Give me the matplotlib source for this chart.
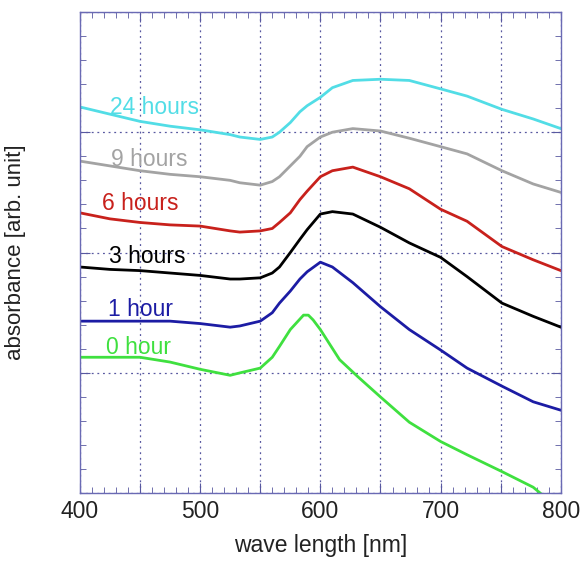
import numpy as np
import matplotlib
matplotlib.use("Agg")
import matplotlib.pyplot as plt
from matplotlib.ticker import MultipleLocator

plt.rcParams['font.family'] = ['Liberation Sans', 'DejaVu Sans']

# wavelengths [nm]
wl = [400, 425, 450, 475, 500, 525, 533, 550, 560, 566, 575, 583, 589, 600,
      610, 627, 650, 674, 700, 722, 751, 777, 800]

abs_24h = [3.21, 3.15, 3.09, 3.05, 3.02, 2.98, 2.96, 2.94, 2.96, 3.00, 3.08,
           3.17, 3.22, 3.29, 3.37, 3.43, 3.44, 3.43, 3.36, 3.30, 3.19, 3.11, 3.03]
abs_9h = [2.76, 2.72, 2.68, 2.65, 2.63, 2.60, 2.58, 2.56, 2.59, 2.63, 2.72,
          2.80, 2.88, 2.96, 3.00, 3.03, 3.01, 2.95, 2.88, 2.82, 2.68, 2.57, 2.50]
abs_6h = [2.33, 2.28, 2.25, 2.23, 2.22, 2.18, 2.17, 2.18, 2.20, 2.25, 2.33,
          2.44, 2.51, 2.63, 2.68, 2.71, 2.63, 2.53, 2.36, 2.26, 2.05, 1.94, 1.85]
abs_3h = [1.88, 1.86, 1.85, 1.83, 1.81, 1.78, 1.78, 1.79, 1.83, 1.88, 2.00,
          2.11, 2.19, 2.32, 2.34, 2.32, 2.21, 2.08, 1.96, 1.80, 1.58, 1.47, 1.38]
abs_1h = [1.43, 1.43, 1.43, 1.43, 1.41, 1.38, 1.39, 1.43, 1.50, 1.58, 1.68,
          1.78, 1.84, 1.92, 1.88, 1.75, 1.55, 1.36, 1.19, 1.04, 0.89, 0.76, 0.69]

# 0 hour has its peak further left, so its own wavelength list
wl_0h = [400, 425, 450, 475, 500, 525, 533, 550, 560, 566, 575, 586, 590, 594,
         600, 616, 631, 650, 674, 700, 722, 751, 777, 783]
abs_0h = [1.13, 1.13, 1.13, 1.09, 1.03, 0.98, 1.00, 1.04, 1.13, 1.22, 1.36,
          1.48, 1.48, 1.44, 1.36, 1.11, 0.97, 0.80, 0.59, 0.43, 0.32, 0.18,
          0.05, 0.0]

labels = ['24 hours', '9 hours', '6 hours', '3 hours', '1 hour', '0 hour']
colors = ['#52dde6', '#a3a3a3', '#c8211c', '#000000', '#1c1ca4', '#3fe03f']
label_x = [425, 426, 418, 424, 423, 422]
label_y = [3.15, 2.72, 2.35, 1.91, 1.47, 1.16]

fig = plt.figure(figsize=(5.83, 5.65), dpi=100)
ax = fig.add_axes([0.137, 0.127, 0.825, 0.852])

series = [(wl, abs_24h), (wl, abs_9h), (wl, abs_6h), (wl, abs_3h),
          (wl, abs_1h), (wl_0h, abs_0h)]
for (x, y), c in zip(series, colors):
    ax.plot(x, y, color=c, lw=2.0)

for t, c, lx, ly in zip(labels, colors, label_x, label_y):
    ax.text(lx, ly, t, color=c, fontsize=16.5, va='baseline', ha='left')

ax.set_xlim(400, 800)
ax.set_ylim(0, 4)
ax.xaxis.set_major_locator(MultipleLocator(50))
ax.xaxis.set_minor_locator(MultipleLocator(10))
ax.yaxis.set_major_locator(MultipleLocator(1))
ax.yaxis.set_minor_locator(MultipleLocator(0.2))
ax.set_xticks([400, 450, 500, 550, 600, 650, 700, 750, 800])
ax.set_xticklabels(['400', '', '500', '', '600', '', '700', '', '800'])
ax.set_yticklabels([])

ax.grid(True, which='major', ls=(0, (1.5, 3)), color='#5858a0', lw=0.9)
ax.tick_params(which='both', direction='in', top=True, right=True,
               color='#5858a0', labelsize=16.5, labelcolor='#222222', pad=5)
ax.tick_params(which='major', length=7)
ax.tick_params(which='minor', length=4)
for s in ax.spines.values():
    s.set_color('#6a6ab4')
    s.set_linewidth(1.0)

ax.set_xlabel('wave length [nm]', fontsize=16.5, color='#222222', labelpad=8)
ax.set_ylabel('absorbance [arb. unit]', fontsize=16, color='#222222')
ax.yaxis.set_label_coords(-0.112, 0.5)

fig.savefig('out.png', dpi=100)
